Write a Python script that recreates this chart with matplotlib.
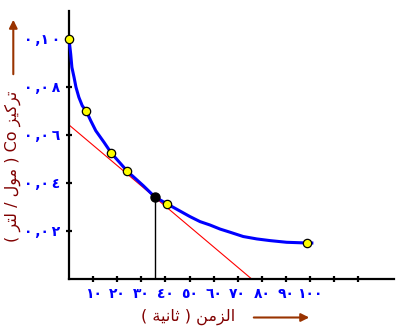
import matplotlib
matplotlib.use('Agg')
import matplotlib.pyplot as plt
from matplotlib.patches import FancyArrowPatch

W, H = 398, 332

# blue curve (time in s, concentration mol/L)
curve_t = [0.0, 0.7, 1.2, 2.1, 2.9, 4.1, 5.5, 7.2, 9.0, 11.1, 14.5, 17.6, 24.2,
           30.8, 35.6, 40.7, 50.2, 54.4, 58.5, 62.7, 66.8, 72.3, 77.9, 83.4,
           90.3, 98.9, 101.4]
curve_c = [0.1000, 0.0938, 0.0882, 0.0840, 0.0799, 0.0757, 0.0722, 0.0699, 0.0660,
           0.0618, 0.0570, 0.0524, 0.0449, 0.0389, 0.0342, 0.0313, 0.0260, 0.0239,
           0.0225, 0.0208, 0.0195, 0.0177, 0.0167, 0.0160, 0.0153, 0.0150, 0.0150]

# measured points (yellow)
meas_t = [0.0, 7.2, 17.6, 24.2, 40.7, 98.9]
meas_c = [0.100, 0.0699, 0.0524, 0.0449, 0.0313, 0.0150]

# tangent point (black) and tangent line (red)
point_t = [35.6]
point_c = [0.0342]
tangent_t = [0.0, 75.8]
tangent_c = [0.0642, 0.0]

x_ticks = [10, 20, 30, 40, 50, 60, 70, 80, 90, 100, 110, 120]
x_tick_labels = ['١٠', '٢٠', '٣٠', '٤٠', '٥٠', '٦٠', '٧٠', '٨٠', '٩٠', '١٠٠', '', '']
y_ticks = [0.02, 0.04, 0.06, 0.08, 0.10]
y_tick_labels = ['٠\u2009,٠\u2009٢', '٠\u2009,٠\u2009٤', '٠\u2009,٠\u2009٦',
                 '٠\u2009,٠\u2009٨', '٠\u2009,١\u2009٠']

x_label = '( ﺔﻴﻧﺎﺛ ) ﻦﻣﺰﻟﺍ'
y_label = '( ﺮﺘﻟ / ﻝﻮﻣ ) Co ﺰﻴﻛﺮﺗ'

plt.rcParams['font.family'] = ['DejaVu Sans']

fig = plt.figure(figsize=(W / 100, H / 100), dpi=100)
fig.patch.set_facecolor('white')


def fx(px):
    return px / W


def fy(py):
    return 1 - py / H


left, right, top, bottom = 69, 394, 11, 279
ax = fig.add_axes([fx(left), fy(bottom), fx(right) - fx(left), fy(top) - fy(bottom)])
ax.set_xlim(0, (right - left) / 2.41)
ax.set_ylim(0, (bottom - top) / 2400)

for s in ['top', 'right']:
    ax.spines[s].set_visible(False)
for s in ['left', 'bottom']:
    ax.spines[s].set_linewidth(1.6)
    ax.spines[s].set_color('black')

ax.set_xticks(x_ticks)
ax.set_xticklabels(x_tick_labels)
ax.set_yticks(y_ticks)
ax.set_yticklabels(y_tick_labels)
ax.tick_params(axis='both', direction='inout', length=5, width=1.6, color='black',
               labelcolor='#0000ff', labelsize=10)
ax.tick_params(axis='x', pad=3)
ax.tick_params(axis='y', pad=4)
for lab in ax.get_xticklabels() + ax.get_yticklabels():
    lab.set_fontweight('bold')

ax.plot(tangent_t, tangent_c, color='#ff0000', lw=0.8, zorder=2, clip_on=False)
ax.plot(curve_t, curve_c, color='#0000ff', lw=2.2, zorder=3, clip_on=False,
        solid_capstyle='butt', solid_joinstyle='round')
ax.vlines(point_t, 0, point_c, color='black', lw=1.0, zorder=2)
ax.plot(meas_t, meas_c, 'o', ms=6, mfc='#ffff00', mec='black', mew=0.9,
        zorder=5, clip_on=False)
ax.plot(point_t, point_c, 'o', ms=6.5, mfc='black', mec='black', zorder=5)

# axis titles with arrows
fig.text(fx(188), fy(317), x_label, color='#800000', fontsize=11.5,
         ha='center', va='center')
fig.text(fx(13), fy(166), y_label, color='#800000', fontsize=11.5,
         ha='center', va='center', rotation=90)

fig.add_artist(FancyArrowPatch((fx(251), fy(317.5)), (fx(312), fy(317.5)),
                               transform=fig.transFigure, arrowstyle='-|>',
                               mutation_scale=12, color='#993300', lw=1.5))
fig.add_artist(FancyArrowPatch((fx(13.3), fy(77)), (fx(13.3), fy(17)),
                               transform=fig.transFigure, arrowstyle='-|>',
                               mutation_scale=12, color='#993300', lw=1.5))

fig.savefig('out.png', dpi=100, facecolor='white')
